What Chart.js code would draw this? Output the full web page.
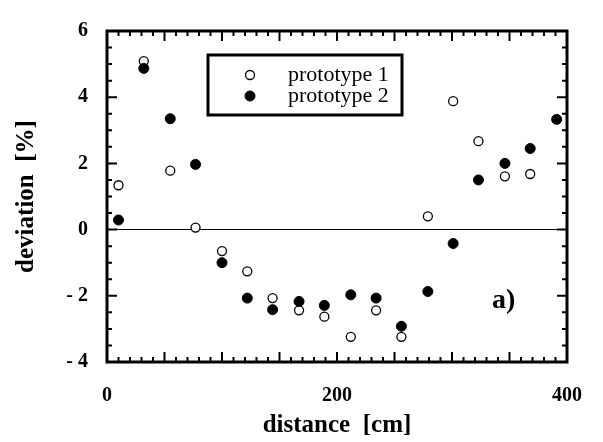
<!DOCTYPE html>
<html>
<head>
<meta charset="utf-8">
<script src="https://cdn.jsdelivr.net/npm/chart.js@4.4.1/dist/chart.umd.min.js"></script>
<style>
  body { margin: 0; background: #fff; }
  #wrap { width: 603px; height: 442px; }
</style>
</head>
<body>
<div id="wrap"><canvas id="myChart" width="603" height="442"></canvas></div>
<script>
'use strict';

// *******Data*******
let distances = [10, 32, 55, 77, 100, 122, 144, 167, 189, 212, 234, 256, 279, 301, 323, 346, 368, 391];
let proto1 = [1.34, 5.09, 1.78, 0.06, -0.65, -1.26, -2.07, -2.44, -2.63, -3.24, -2.44, -3.24, 0.40, 3.88, 2.67, 1.61, 1.68, null];
let proto2 = [0.29, 4.87, 3.35, 1.97, -1.00, -2.07, -2.42, -2.17, -2.29, -1.97, -2.07, -2.92, -1.87, -0.42, 1.50, 2.00, 2.45, 3.33];
let seriesNames = ['prototype 1', 'prototype 2'];
let xTicks = [0, 200, 400];
let yTicks = [-4, -2, 0, 2, 4, 6];

const SERIF = '"Liberation Serif", "Times New Roman", serif';

function toPoints(values){
  let pts = [];
  for(let i = 0; i < distances.length; i++){
    if(values[i] !== null){
      pts.push({x: distances[i], y: values[i]});
    }
  }
  return pts;
}

//****Plugin: frame, inward ticks, legend box, panel label****
const framePlugin = {
  id: 'frame',
  afterDraw(chart){
    const ctx = chart.ctx;
    const area = chart.chartArea;
    const xs = chart.scales.x;
    const ys = chart.scales.y;
    ctx.save();
    ctx.strokeStyle = '#000';

    // ticks on all four sides
    ctx.lineWidth = 2;
    for(let v = xs.min; v <= xs.max; v += 10){
      let px = xs.getPixelForValue(v);
      let len = (v % 50 === 0) ? 10 : 5;
      ctx.beginPath();
      ctx.moveTo(px, area.bottom);
      ctx.lineTo(px, area.bottom - len);
      ctx.moveTo(px, area.top);
      ctx.lineTo(px, area.top + len);
      ctx.stroke();
    }
    for(let v = ys.min; v <= ys.max; v += 0.5){
      let py = ys.getPixelForValue(v);
      let len = (v % 2 === 0) ? 10 : 5;
      ctx.beginPath();
      ctx.moveTo(area.left, py);
      ctx.lineTo(area.left + len, py);
      ctx.moveTo(area.right, py);
      ctx.lineTo(area.right - len, py);
      ctx.stroke();
    }

    // frame
    ctx.lineWidth = 3;
    ctx.strokeRect(area.left, area.top, area.right - area.left, area.bottom - area.top);

    // legend box
    let bx = area.left + 101, by = area.top + 24, bw = 194, bh = 60;
    ctx.lineWidth = 3;
    ctx.fillStyle = '#fff';
    ctx.fillRect(bx, by, bw, bh);
    ctx.strokeRect(bx, by, bw, bh);
    ctx.font = '22px ' + SERIF;
    ctx.textBaseline = 'middle';
    ctx.textAlign = 'left';
    for(let i = 0; i < chart.data.datasets.length; i++){
      let ds = chart.data.datasets[i];
      let cy = by + 20 + i * 21;
      ctx.beginPath();
      ctx.arc(bx + 42, cy, ds.pointRadius, 0, Math.PI * 2);
      ctx.fillStyle = ds.backgroundColor;
      ctx.fill();
      ctx.lineWidth = ds.borderWidth;
      ctx.strokeStyle = ds.borderColor;
      ctx.stroke();
      ctx.fillStyle = '#000';
      ctx.fillText(ds.label, bx + 80, cy);
    }

    // panel label
    ctx.font = 'bold 28px ' + SERIF;
    ctx.textAlign = 'center';
    ctx.fillStyle = '#000';
    ctx.fillText('a)', xs.getPixelForValue(345), ys.getPixelForValue(-2.14));
    ctx.restore();
  }
};

// ******** Canvas Element for chart*******
const ctx = document.getElementById('myChart').getContext('2d');

let myChartObj = {
  type: 'scatter',
  data: {
    datasets: [
      {
        label: seriesNames[0],
        data: toPoints(proto1),
        backgroundColor: '#fff',
        borderColor: '#000',
        borderWidth: 1.3,
        pointRadius: 4.5,
        order: 1
      },
      {
        label: seriesNames[1],
        data: toPoints(proto2),
        backgroundColor: '#000',
        borderColor: '#000',
        borderWidth: 1,
        pointRadius: 5,
        order: 0
      }
    ]
  },
  options: {
    responsive: false,
    animation: false,
    devicePixelRatio: 1,
    layout: { padding: { top: 18, right: 36, left: 0, bottom: 0 } },
    plugins: {
      legend: { display: false },
      tooltip: { enabled: false }
    },
    scales: {
      x: {
        type: 'linear',
        min: 0,
        max: 400,
        afterFit(scale){ scale.height = 80; },
        afterBuildTicks(scale){ scale.ticks = xTicks.map(v => ({value: v})); },
        grid: { display: false },
        border: { display: false },
        ticks: {
          padding: 14,
          color: '#000',
          font: { family: SERIF, size: 20, weight: 'bold' }
        },
        title: {
          display: true,
          text: 'distance  [cm]',
          color: '#000',
          padding: { top: 0, bottom: 1 },
          font: { family: SERIF, size: 25, weight: 'bold' }
        }
      },
      y: {
        type: 'linear',
        min: -4,
        max: 6,
        afterFit(scale){ scale.width = 107; },
        afterBuildTicks(scale){ scale.ticks = yTicks.map(v => ({value: v})); },
        grid: {
          drawTicks: false,
          lineWidth: 1,
          color: c => (c.tick && c.tick.value === 0) ? '#000' : 'rgba(0,0,0,0)'
        },
        border: { display: false },
        ticks: {
          padding: 19,
          color: '#000',
          font: { family: SERIF, size: 20, weight: 'bold' },
          callback: v => v < 0 ? '- ' + Math.abs(v) : String(v)
        },
        title: {
          display: true,
          text: 'deviation  [%]',
          color: '#000',
          padding: { top: 12, bottom: 0 },
          font: { family: SERIF, size: 25, weight: 'bold' }
        }
      }
    }
  },
  plugins: [framePlugin]
};

const myChart = new Chart(ctx, myChartObj);
</script>
</body>
</html>
